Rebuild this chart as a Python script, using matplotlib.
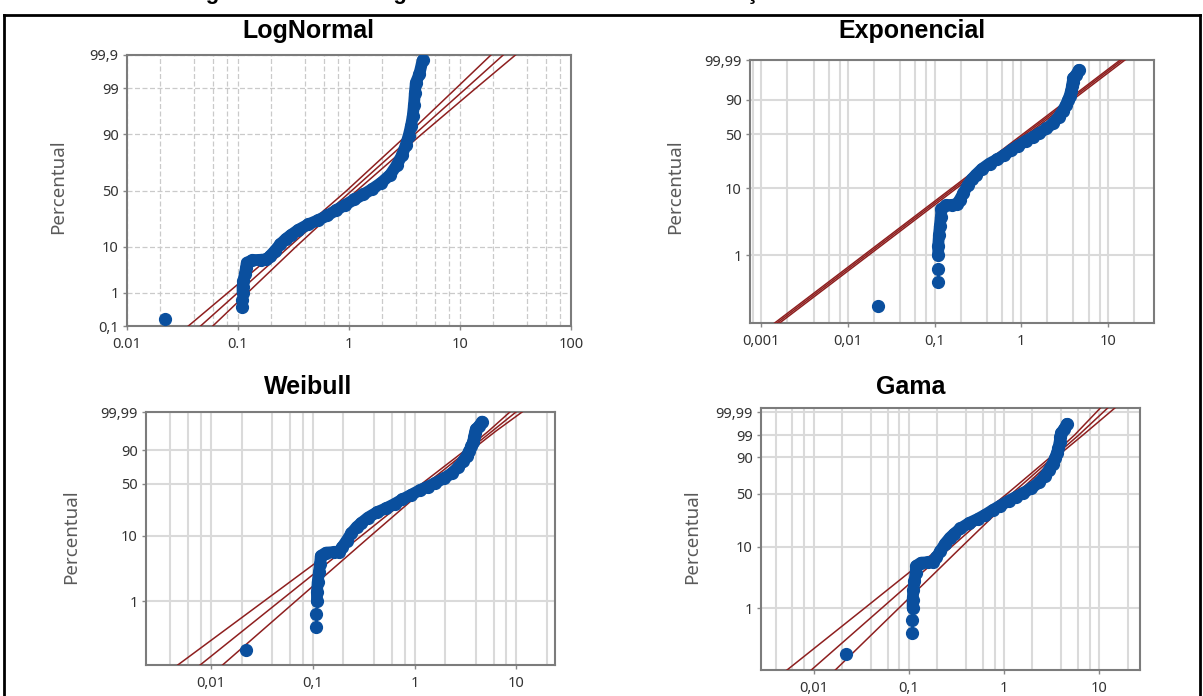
import math
import numpy as np
import matplotlib
matplotlib.use("Agg")
import matplotlib.pyplot as plt
from matplotlib.lines import Line2D
from matplotlib.ticker import FixedLocator, FixedFormatter, LogLocator, NullFormatter, NullLocator

# sample (same data on every panel): value and plotting percentile
x_data = [0.022, 0.108, 0.108, 0.11, 0.11, 0.112, 0.115, 0.118, 0.12, 0.135, 0.16, 0.18,
          0.195, 0.215, 0.24, 0.27, 0.30, 0.35, 0.43, 0.53, 0.64, 0.76, 0.92, 1.12, 1.35,
          1.6, 1.95, 2.35, 2.7, 3.0, 3.25, 3.45, 3.62, 3.75, 3.85, 3.92, 4.0, 4.3, 4.6]
pct_data = [0.17, 0.39, 0.63, 1.0, 1.4, 2.0, 2.8, 3.8, 5.0, 5.6, 5.7, 5.8,
            6.8, 8.5, 11.0, 13.5, 15.5, 18.5, 22.0, 25.0, 28.5, 32.5, 37.0, 42.0, 46.5,
            51.0, 57.0, 64.0, 72.0, 79.0, 85.0, 89.5, 93.0, 95.5, 97.5, 98.7, 99.3, 99.6, 99.85]

# fitted lines and confidence bounds
logn_pct = [0.1, 1, 10, 50, 90, 99, 99.9]
logn_fit = [0.046, 0.10, 0.289, 1.06, 3.90, 11.3, 24.5]
logn_lo = [0.0357, 0.0815, 0.2506, 0.955, 3.38, 9.18, 19.0]
logn_hi = [0.0593, 0.1227, 0.333, 1.18, 4.50, 13.8, 31.6]

expo_pct = [0.09, 99.995]
expo_fit = [0.00144, 15.8]
expo_lo = [0.00135, 14.9]
expo_hi = [0.00154, 16.9]

weib_pct = [0.1, 1, 10, 50, 90, 99, 99.99]
weib_fit = [0.00783, 0.0476, 0.300, 1.31, 3.36, 5.78, 9.93]
weib_lo = [0.00472, 0.0333, 0.2432, 1.180, 3.133, 5.32, 8.65]
weib_hi = [0.0130, 0.0682, 0.370, 1.452, 3.597, 6.28, 11.40]

gama_pct = [0.08, 1, 10, 50, 90, 99, 99.999]
gama_fit = [0.0087, 0.0519, 0.2831, 1.208, 3.281, 6.095, 13.5]
gama_lo = [0.0048, 0.0343, 0.2213, 1.079, 3.062, 5.508, 11.2]
gama_hi = [0.0157, 0.0785, 0.3622, 1.352, 3.516, 6.745, 16.2]

GAMMA_SHAPE = 1.45

BLUE = "#0a4f9e"
RED = "#8e1f1f"
W, H = 1203, 696

plt.rcParams["font.family"] = ["Noto Sans", "DejaVu Sans"]


# ---------- probability scales ----------
def norm_ppf(p):
    p = np.clip(np.asarray(p, dtype=float), 1e-12, 1 - 1e-12)
    a = [-3.969683028665376e+01, 2.209460984245205e+02, -2.759285104469687e+02,
         1.383577518672690e+02, -3.066479806614716e+01, 2.506628277459239e+00]
    b = [-5.447609879822406e+01, 1.615858368580409e+02, -1.556989798598866e+02,
         6.680131188771972e+01, -1.328068155288572e+01]
    c = [-7.784894002430293e-03, -3.223964580411365e-01, -2.400758277161838e+00,
         -2.549671464313545e+00, 4.374664141464968e+00, 2.938163982698783e+00]
    d = [7.784695709041462e-03, 3.224671290700398e-01, 2.445134137142996e+00,
         3.754408661907416e+00]
    q = p - 0.5
    r = q * q
    mid = (((((a[0]*r+a[1])*r+a[2])*r+a[3])*r+a[4])*r+a[5])*q / \
          (((((b[0]*r+b[1])*r+b[2])*r+b[3])*r+b[4])*r+1)
    t = np.sqrt(-2 * np.log(np.minimum(p, 1 - p)))
    tail = (((((c[0]*t+c[1])*t+c[2])*t+c[3])*t+c[4])*t+c[5]) / \
           ((((d[0]*t+d[1])*t+d[2])*t+d[3])*t+1)
    tail = np.where(p < 0.5, tail, -tail)
    return np.where((p > 0.02425) & (p < 1 - 0.02425), mid, tail)


_erf = np.vectorize(math.erf)


def normal_fwd(y):
    return norm_ppf(np.asarray(y, dtype=float) / 100.0)


def normal_inv(z):
    return 50.0 * (1 + _erf(np.asarray(z, dtype=float) / math.sqrt(2)))


def weibull_fwd(y):
    p = np.clip(np.asarray(y, dtype=float) / 100.0, 1e-12, 1 - 1e-12)
    return np.log(-np.log(1 - p))


def weibull_inv(w):
    w = np.clip(np.asarray(w, dtype=float), -40, 4)
    return 100.0 * (1 - np.exp(-np.exp(w)))


def gammainc(a, x):
    x = np.clip(np.asarray(x, dtype=float), 1e-300, 60)
    term = np.ones_like(x) / a
    s = term.copy()
    for n in range(1, 200):
        term = term * x / (a + n)
        s = s + term
    return np.exp(-x + a * np.log(x) - math.lgamma(a)) * s


_gv = np.linspace(-30, 3.5, 8000)
_gp = gammainc(GAMMA_SHAPE, np.exp(_gv)) * 100.0


def gamma_fwd(y):
    return np.interp(np.asarray(y, dtype=float), _gp, _gv)


def gamma_inv(v):
    return np.interp(np.asarray(v, dtype=float), _gv, _gp)


# ---------- figure ----------
fig = plt.figure(figsize=(W / 100, H / 100), dpi=100)


def px_rect(left, right, top, bottom):
    return [left / W, 1 - bottom / H, (right - left) / W, (bottom - top) / H]


def panel(rect, scale, xlim, ylim, xticks, xlabels, yticks, ylabels,
          pct, fit, lo, hi, dashed):
    ax = fig.add_axes(rect)
    ax.set_xscale("log")
    ax.set_yscale("function", functions=scale)
    ax.set_xlim(*xlim)
    ax.set_ylim(*ylim)

    ax.xaxis.set_major_locator(FixedLocator(xticks))
    ax.xaxis.set_major_formatter(FixedFormatter(xlabels))
    ax.xaxis.set_minor_locator(LogLocator(base=10, subs=[2, 4, 6, 8], numticks=20))
    ax.xaxis.set_minor_formatter(NullFormatter())
    ax.yaxis.set_major_locator(FixedLocator(yticks))
    ax.yaxis.set_major_formatter(FixedFormatter(ylabels))
    ax.yaxis.set_minor_locator(NullLocator())

    if dashed:
        gkw = dict(color="#cacaca", lw=0.9, ls=(0, (4, 2)))
    else:
        gkw = dict(color="#dadada", lw=1.5, ls="-")
    ax.grid(True, which="both", axis="x", **gkw)
    ax.grid(True, which="major", axis="y", **gkw)
    ax.set_axisbelow(True)

    ax.tick_params(which="major", length=3, width=1, color="#888888",
                   labelsize=10.5, labelcolor="#333333", pad=3)
    ax.tick_params(axis="x", which="major", pad=5)
    ax.tick_params(which="minor", length=0)
    for s in ax.spines.values():
        s.set_color("#7c7c7c")
        s.set_linewidth(1.5)

    for xs in (lo, fit, hi):
        ax.plot(xs, pct, color=RED, lw=1.1, zorder=3)

    ax.plot(x_data[3:], pct_data[3:], "-", color=BLUE, lw=8.5,
            solid_capstyle="round", solid_joinstyle="round", zorder=4)
    ax.plot(x_data, pct_data, "o", color=BLUE, ms=8.5, mec=BLUE, zorder=5)
    return ax


panel(px_rect(127, 571, 55, 326), (normal_fwd, normal_inv), (0.01, 100), (0.1, 99.9),
      [0.01, 0.1, 1, 10, 100], ["0.01", "0.1", "1", "10", "100"],
      [0.1, 1, 10, 50, 90, 99, 99.9], ["0,1", "1", "10", "50", "90", "99", "99,9"],
      logn_pct, logn_fit, logn_lo, logn_hi, True)

panel(px_rect(750, 1154, 60, 323), (weibull_fwd, weibull_inv), (0.00074, 34), (0.095, 99.99),
      [0.001, 0.01, 0.1, 1, 10], ["0,001", "0,01", "0,1", "1", "10"],
      [1, 10, 50, 90, 99.99], ["1", "10", "50", "90", "99,99"],
      expo_pct, expo_fit, expo_lo, expo_hi, False)

panel(px_rect(146, 555, 412, 665), (weibull_fwd, weibull_inv), (0.0023, 24), (0.1, 99.99),
      [0.01, 0.1, 1, 10], ["0,01", "0,1", "1", "10"],
      [1, 10, 50, 90, 99.99], ["1", "10", "50", "90", "99,99"],
      weib_pct, weib_fit, weib_lo, weib_hi, False)

panel(px_rect(761, 1140, 408, 670), (gamma_fwd, gamma_inv), (0.0028, 27), (0.09, 99.997),
      [0.01, 0.1, 1, 10], ["0,01", "0,1", "1", "10"],
      [1, 10, 50, 90, 99, 99.99], ["1", "10", "50", "90", "99", "99,99"],
      gama_pct, gama_fit, gama_lo, gama_hi, False)

# panel titles and axis labels
titles = [("LogNormal", 308, 31), ("Exponencial", 912, 31), ("Weibull", 308, 387), ("Gama", 911, 387)]
for name, tx, ty in titles:
    fig.text(tx / W, 1 - ty / H, name, ha="center", va="center", fontsize=18,
             fontweight="bold", family=["Liberation Sans", "DejaVu Sans"])

for lx, ly in [(58, 187), (675, 187), (71, 537), (692, 537)]:
    fig.text(lx / W, 1 - ly / H, "Percentual", rotation=90, ha="center", va="center",
             fontsize=13.5, color="#5a5a5a")

# caption of the page, cut off at the top edge as in the source
fig.text(585 / W, 1 + 1.5 / H,
         "Figura 12 – Análise gráfica da aderência das distribuições – Setor Industrial",
         ha="center", va="baseline", fontsize=16, fontweight="bold",
         family=["Liberation Sans", "DejaVu Sans"])
fig.add_artist(Line2D([4 / W, 1200 / W], [1 - 15 / H, 1 - 15 / H], color="black", lw=2))
fig.add_artist(Line2D([4 / W, 4 / W], [0, 1 - 15 / H], color="black", lw=2))
fig.add_artist(Line2D([1200 / W, 1200 / W], [0, 1 - 15 / H], color="black", lw=2))

fig.savefig("out.png", dpi=100)
